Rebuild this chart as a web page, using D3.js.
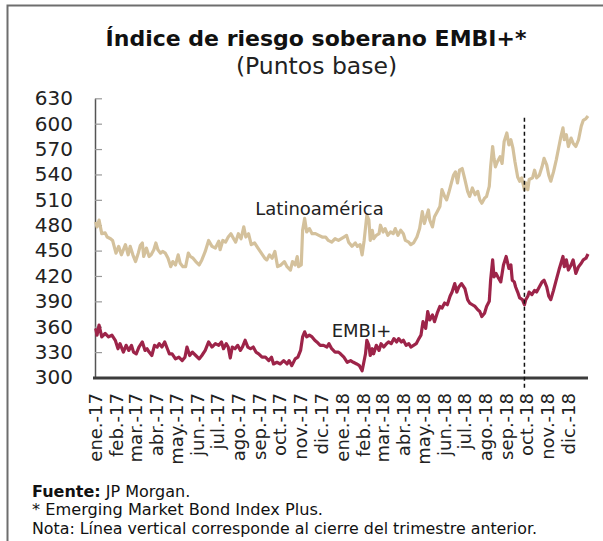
<!DOCTYPE html>
<html><head><meta charset="utf-8">
<script src="https://cdn.jsdelivr.net/npm/d3@7"></script>
<style>
body{margin:0;background:#fff}
svg{display:block}
text{font-family:"DejaVu Sans",sans-serif}
</style>
</head><body>
<svg id="c" width="603" height="541"></svg>
<script>
const title = "Índice de riesgo soberano EMBI+*";
const subtitle = "(Puntos base)";
const monthLabels = ["ene.-17","feb.-17","mar.-17","abr.-17","may.-17","jun.-17","jul.-17","ago.-17","sep.-17","oct.-17","nov.-17","dic.-17",
  "ene.-18","feb.-18","mar.-18","abr.-18","may.-18","jun.-18","jul.-18","ago.-18","sep.-18","oct.-18","nov.-18","dic.-18"];
const yTicks = [300,330,360,390,420,450,480,510,540,570,600,630];
const seriesNames = ["Latinoamérica","EMBI+"];
const quarterClose = "2018-09-28";
const footnotes = ["* Emerging Market Bond Index Plus.","Nota: Línea vertical corresponde al cierre del trimestre anterior."];

const latam = [["2017-01-02",484],["2017-01-04",478],["2017-01-07",486],["2017-01-11",470],["2017-01-16",471],["2017-01-19",466],["2017-01-24",464],["2017-01-27",462],["2017-02-01",447],["2017-02-05",455],["2017-02-09",445],["2017-02-15",457],["2017-02-19",445],["2017-02-22",455],["2017-02-26",445],["2017-03-02",437],["2017-03-06",447],["2017-03-09",456],["2017-03-12",459],["2017-03-14",443],["2017-03-18",453],["2017-03-22",443],["2017-03-25",445],["2017-03-29",451],["2017-04-01",459],["2017-04-04",451],["2017-04-08",447],["2017-04-11",449],["2017-04-15",447],["2017-04-19",441],["2017-04-23",431],["2017-04-26",437],["2017-04-30",433],["2017-05-04",445],["2017-05-07",435],["2017-05-11",431],["2017-05-15",431],["2017-05-19",447],["2017-05-22",443],["2017-05-26",441],["2017-05-30",437],["2017-06-04",433],["2017-06-08",439],["2017-06-13",449],["2017-06-18",462],["2017-06-23",455],["2017-06-28",453],["2017-07-03",461],["2017-07-05",451],["2017-07-09",462],["2017-07-13",460],["2017-07-17",466],["2017-07-21",470],["2017-07-25",464],["2017-07-28",460],["2017-08-01",470],["2017-08-05",464],["2017-08-09",478],["2017-08-12",466],["2017-08-16",470],["2017-08-20",457],["2017-08-25",459],["2017-08-30",453],["2017-09-04",447],["2017-09-09",441],["2017-09-12",439],["2017-09-16",445],["2017-09-20",441],["2017-09-24",449],["2017-09-28",431],["2017-10-03",433],["2017-10-08",437],["2017-10-12",431],["2017-10-17",427],["2017-10-20",437],["2017-10-24",433],["2017-10-27",443],["2017-10-29",431],["2017-11-02",433],["2017-11-04",474],["2017-11-07",488],["2017-11-10",472],["2017-11-14",476],["2017-11-18",470],["2017-11-23",470],["2017-11-28",468],["2017-12-03",466],["2017-12-08",466],["2017-12-12",462],["2017-12-17",460],["2017-12-22",464],["2017-12-27",462],["2018-01-04",466],["2018-01-08",468],["2018-01-11",460],["2018-01-16",455],["2018-01-21",459],["2018-01-24",455],["2018-01-28",457],["2018-01-31",445],["2018-02-03",462],["2018-02-07",492],["2018-02-10",486],["2018-02-12",462],["2018-02-15",474],["2018-02-17",464],["2018-02-21",468],["2018-02-25",470],["2018-02-27",480],["2018-03-03",472],["2018-03-06",476],["2018-03-10",468],["2018-03-14",472],["2018-03-18",470],["2018-03-21",476],["2018-03-25",468],["2018-03-29",474],["2018-04-02",470],["2018-04-05",462],["2018-04-10",460],["2018-04-13",457],["2018-04-17",459],["2018-04-22",466],["2018-04-26",476],["2018-04-30",496],["2018-05-03",482],["2018-05-06",490],["2018-05-09",498],["2018-05-11",486],["2018-05-15",478],["2018-05-18",490],["2018-05-22",496],["2018-05-26",502],["2018-05-29",522],["2018-06-02",514],["2018-06-05",510],["2018-06-08",518],["2018-06-12",530],["2018-06-15",539],["2018-06-18",543],["2018-06-21",530],["2018-06-24",545],["2018-06-28",547],["2018-07-02",534],["2018-07-06",520],["2018-07-09",514],["2018-07-13",524],["2018-07-17",516],["2018-07-21",520],["2018-07-24",510],["2018-07-27",506],["2018-07-31",512],["2018-08-03",514],["2018-08-07",526],["2018-08-09",549],["2018-08-12",573],["2018-08-14",559],["2018-08-16",549],["2018-08-19",555],["2018-08-23",561],["2018-08-26",553],["2018-08-29",579],["2018-09-02",589],["2018-09-05",575],["2018-09-08",581],["2018-09-11",571],["2018-09-14",555],["2018-09-18",537],["2018-09-21",532],["2018-09-24",536],["2018-09-28",522],["2018-09-30",530],["2018-10-03",522],["2018-10-05",534],["2018-10-10",536],["2018-10-13",545],["2018-10-16",536],["2018-10-20",539],["2018-10-24",549],["2018-10-27",559],["2018-10-31",551],["2018-11-03",539],["2018-11-06",532],["2018-11-10",543],["2018-11-14",557],["2018-11-18",573],["2018-11-21",585],["2018-11-24",595],["2018-11-26",581],["2018-11-29",587],["2018-12-02",573],["2018-12-06",583],["2018-12-09",577],["2018-12-13",573],["2018-12-17",581],["2018-12-21",597],["2018-12-24",604],["2018-12-28",606],["2018-12-31",609]];

const embi = [["2017-01-02",358],["2017-01-04",350],["2017-01-07",362],["2017-01-11",348],["2017-01-16",352],["2017-01-21",348],["2017-01-26",350],["2017-01-31",344],["2017-02-04",334],["2017-02-07",340],["2017-02-12",330],["2017-02-16",338],["2017-02-20",332],["2017-02-24",338],["2017-02-27",330],["2017-03-03",328],["2017-03-07",336],["2017-03-12",342],["2017-03-16",332],["2017-03-19",334],["2017-03-22",330],["2017-03-26",326],["2017-03-30",338],["2017-04-03",336],["2017-04-06",340],["2017-04-10",336],["2017-04-14",342],["2017-04-18",334],["2017-04-21",328],["2017-04-25",328],["2017-04-30",322],["2017-05-05",324],["2017-05-10",320],["2017-05-14",324],["2017-05-17",336],["2017-05-21",326],["2017-05-25",330],["2017-05-30",326],["2017-06-04",322],["2017-06-08",326],["2017-06-13",332],["2017-06-18",342],["2017-06-23",336],["2017-06-28",340],["2017-07-03",338],["2017-07-07",342],["2017-07-10",334],["2017-07-14",340],["2017-07-17",336],["2017-07-20",323],["2017-07-23",336],["2017-07-27",334],["2017-07-31",338],["2017-08-04",332],["2017-08-07",336],["2017-08-11",344],["2017-08-15",336],["2017-08-19",334],["2017-08-23",336],["2017-08-27",330],["2017-08-31",328],["2017-09-05",324],["2017-09-10",324],["2017-09-15",320],["2017-09-19",324],["2017-09-22",316],["2017-09-27",318],["2017-10-02",316],["2017-10-07",320],["2017-10-12",316],["2017-10-15",320],["2017-10-19",314],["2017-10-24",322],["2017-10-28",324],["2017-11-01",332],["2017-11-04",348],["2017-11-07",354],["2017-11-10",348],["2017-11-14",350],["2017-11-18",348],["2017-11-22",344],["2017-11-25",342],["2017-11-30",338],["2017-12-05",338],["2017-12-10",336],["2017-12-13",340],["2017-12-17",334],["2017-12-22",330],["2017-12-27",330],["2017-12-30",328],["2018-01-04",324],["2018-01-09",318],["2018-01-14",320],["2018-01-18",318],["2018-01-23",316],["2018-01-27",314],["2018-01-31",308],["2018-02-02",316],["2018-02-05",328],["2018-02-07",344],["2018-02-10",338],["2018-02-12",326],["2018-02-15",334],["2018-02-17",328],["2018-02-21",338],["2018-02-25",332],["2018-02-28",340],["2018-03-04",336],["2018-03-08",340],["2018-03-11",342],["2018-03-15",340],["2018-03-19",346],["2018-03-23",342],["2018-03-26",346],["2018-03-30",342],["2018-04-02",344],["2018-04-06",338],["2018-04-10",340],["2018-04-13",336],["2018-04-17",338],["2018-04-21",340],["2018-04-25",346],["2018-04-28",350],["2018-05-01",366],["2018-05-05",358],["2018-05-08",378],["2018-05-11",368],["2018-05-15",374],["2018-05-18",366],["2018-05-22",376],["2018-05-26",384],["2018-05-29",382],["2018-06-02",388],["2018-06-06",386],["2018-06-10",396],["2018-06-13",401],["2018-06-17",411],["2018-06-20",401],["2018-06-23",407],["2018-06-27",411],["2018-07-02",405],["2018-07-06",392],["2018-07-09",388],["2018-07-13",386],["2018-07-17",384],["2018-07-21",380],["2018-07-24",378],["2018-07-27",372],["2018-07-31",376],["2018-08-03",384],["2018-08-07",390],["2018-08-09",415],["2018-08-12",439],["2018-08-14",419],["2018-08-17",423],["2018-08-21",417],["2018-08-24",413],["2018-08-28",433],["2018-09-01",443],["2018-09-05",429],["2018-09-08",433],["2018-09-10",415],["2018-09-13",413],["2018-09-15",407],["2018-09-18",401],["2018-09-21",394],["2018-09-25",392],["2018-09-28",386],["2018-09-30",392],["2018-10-03",396],["2018-10-05",401],["2018-10-09",398],["2018-10-13",403],["2018-10-16",401],["2018-10-20",407],["2018-10-24",413],["2018-10-27",415],["2018-10-31",407],["2018-11-03",396],["2018-11-06",392],["2018-11-10",403],["2018-11-14",415],["2018-11-18",427],["2018-11-21",435],["2018-11-24",443],["2018-11-26",431],["2018-11-29",439],["2018-12-02",427],["2018-12-06",433],["2018-12-09",439],["2018-12-13",423],["2018-12-17",431],["2018-12-21",435],["2018-12-24",439],["2018-12-28",441],["2018-12-31",446]];

const parse = d3.utcParse("%Y-%m-%d");
const svg = d3.select("#c");

// frame
svg.append("path").attr("d","M7.5,541V5.5H603").attr("fill","none").attr("stroke","#6e6e6e").attr("stroke-width",2);

// titles
svg.append("text").attr("x",316).attr("y",46).attr("text-anchor","middle")
  .attr("font-size",22).attr("font-weight","bold").attr("fill","#111").text(title);
svg.append("text").attr("x",316.5).attr("y",74).attr("text-anchor","middle")
  .attr("font-size",23.5).attr("fill","#222").text(subtitle);

const x = d3.scaleUtc().domain([parse("2017-01-01"), parse("2018-12-31")]).range([95, 588]);
const y = d3.scaleLinear().domain([300, 630]).range([377.5, 98.3]);

// y axis
const gy = svg.append("g").attr("transform","translate(95,0)")
  .call(d3.axisLeft(y).tickValues(yTicks).tickSizeInner(-7).tickSizeOuter(0).tickPadding(22).tickFormat(d3.format("d")));
gy.select(".domain").attr("stroke","#555").attr("stroke-width",1.5);
gy.selectAll(".tick line").attr("stroke","#999").attr("stroke-width",1.2);
gy.selectAll(".tick text").attr("font-size",20).attr("fill","#222").attr("font-family","DejaVu Sans");

// x axis
const months = d3.utcMonth.range(parse("2017-01-01"), parse("2019-01-01"));
const gx = svg.append("g").attr("transform","translate(0,378)")
  .call(d3.axisBottom(x).tickValues(months).tickSize(0).tickPadding(0).tickFormat((d,i)=>monthLabels[i]));
gx.select(".domain").attr("stroke","#3c3c3c").attr("stroke-width",3).attr("d","M93,0H588");
gx.selectAll(".tick text").attr("font-size",18).attr("fill","#222").attr("font-family","DejaVu Sans")
  .attr("text-anchor","end").attr("transform","rotate(-90)").attr("x",-15).attr("y",0).attr("dy","0.35em");

// lines
const line = d3.line().x(d=>x(parse(d[0]))).y(d=>y(d[1]));
svg.append("path").datum(latam).attr("d",line).attr("fill","none").attr("stroke","#D4C19C")
  .attr("stroke-width",3.2).attr("stroke-linejoin","round");
svg.append("path").datum(embi).attr("d",line).attr("fill","none").attr("stroke","#9D2449")
  .attr("stroke-width",3.2).attr("stroke-linejoin","round");

// quarter close dashed line
const qx = x(parse(quarterClose));
svg.append("line").attr("x1",qx).attr("x2",qx).attr("y1",y(607)).attr("y2",388)
  .attr("stroke","#111").attr("stroke-width",1.5).attr("stroke-dasharray","4,3");

// series labels
svg.append("text").attr("x",x(parse("2017-08-26"))).attr("y",y(492)).attr("font-size",18).attr("fill","#222").text(seriesNames[0]);
svg.append("text").attr("x",x(parse("2017-12-17"))).attr("y",y(348)).attr("font-size",18).attr("fill","#222").text(seriesNames[1]);

// footer
const f = svg.append("g").attr("font-size",16).attr("fill","#111");
const t1 = f.append("text").attr("x",32).attr("y",497);
t1.append("tspan").attr("font-weight","bold").text("Fuente:");
t1.append("tspan").text(" JP Morgan.");
f.append("text").attr("x",32).attr("y",515).attr("textLength",291).attr("lengthAdjust","spacingAndGlyphs").text(footnotes[0]);
f.append("text").attr("x",32).attr("y",534).attr("textLength",505).attr("lengthAdjust","spacingAndGlyphs").text(footnotes[1]);
</script>
</body></html>
